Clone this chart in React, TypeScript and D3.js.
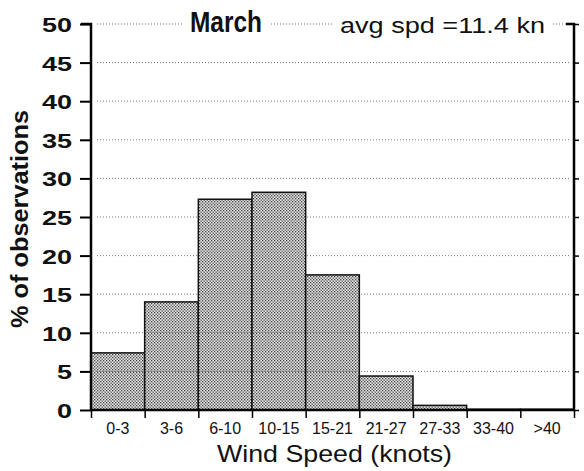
import React, { useEffect, useRef } from 'react';
import * as d3 from 'd3';

const categories = ['0-3', '3-6', '6-10', '10-15', '15-21', '21-27', '27-33', '33-40', '>40'];
const percents = [7.4, 14.0, 27.3, 28.2, 17.5, 4.4, 0.6, 0.1, 0.1];
const yTicks = [0, 5, 10, 15, 20, 25, 30, 35, 40, 45, 50];
const title = 'March';
const subtitle = 'avg spd =11.4 kn';

const App: React.FC = () => {
  const ref = useRef<SVGSVGElement | null>(null);

  useEffect(() => {
    if (!ref.current) return;
    const W = 584, H = 471;
    const margin = { top: 24, left: 91 };
    const width = 574 - margin.left;
    const height = 410 - margin.top;
    const font = "'Liberation Sans', Arial, sans-serif";

    const root = d3.select(ref.current)
      .attr('width', W)
      .attr('height', H)
      .style('position', 'absolute')
      .style('left', 0)
      .style('top', 0);
    root.selectAll('*').remove();

    const defs = root.append('defs');
    const pat = defs.append('pattern')
      .attr('id', 'dots')
      .attr('width', 3)
      .attr('height', 3)
      .attr('patternUnits', 'userSpaceOnUse');
    pat.append('rect').attr('width', 3).attr('height', 3).attr('fill', '#e4e4e4');
    pat.append('rect').attr('x', 0).attr('y', 0).attr('width', 1.3).attr('height', 1.3).attr('fill', '#444');
    pat.append('rect').attr('x', 1.5).attr('y', 1.5).attr('width', 1.3).attr('height', 1.3).attr('fill', '#444');

    const svg = root.append('g').attr('transform', `translate(${margin.left},${margin.top})`);

    const x = d3.scaleBand().domain(categories).range([0, width]).padding(0);
    const y = d3.scaleLinear().domain([0, 50]).range([height, 0]);

    // bars
    svg.append('g')
      .selectAll('rect')
      .data(percents)
      .join('rect')
      .attr('x', (_, i) => x(categories[i]) as number)
      .attr('y', d => y(d))
      .attr('width', x.bandwidth())
      .attr('height', d => height - y(d))
      .attr('fill', 'url(#dots)')
      .attr('stroke', '#111')
      .attr('stroke-width', 1.5);

    // dotted grid lines (drawn over the bars)
    svg.append('g')
      .selectAll('line')
      .data(yTicks.filter(t => t > 0))
      .join('line')
      .attr('x1', 6)
      .attr('x2', width - 4)
      .attr('y1', d => y(d))
      .attr('y2', d => y(d))
      .attr('stroke', '#555')
      .attr('stroke-width', 0.8)
      .attr('stroke-dasharray', '1 2');

    // title boxes
    const tg = svg.append('g');
    tg.append('rect').attr('x', 92).attr('y', -16).attr('width', 86).attr('height', 30).attr('fill', '#fff');
    tg.append('rect').attr('x', 242).attr('y', -16).attr('width', 218).attr('height', 30).attr('fill', '#fff');
    tg.append('text')
      .attr('x', 99)
      .attr('y', 8)
      .attr('font-family', font)
      .attr('font-weight', 'bold')
      .attr('font-size', 29)
      .attr('textLength', 72)
      .attr('lengthAdjust', 'spacingAndGlyphs')
      .attr('fill', '#111')
      .text(title);
    tg.append('text')
      .attr('x', 249)
      .attr('y', 9)
      .attr('font-family', font)
      .attr('font-size', 22)
      .attr('textLength', 205)
      .attr('lengthAdjust', 'spacingAndGlyphs')
      .attr('fill', '#111')
      .text(subtitle);

    // left axis
    const yAxisLeft = d3.axisLeft(y).tickValues(yTicks).tickSize(11).tickPadding(8);
    const gl = svg.append('g').call(yAxisLeft);
    gl.select('.domain').attr('stroke-width', 2.5).attr('d', `M-10,0H0V${height}`);
    gl.selectAll('line').attr('stroke-width', 2);
    gl.selectAll<SVGTextElement, number>('text')
      .attr('font-family', font)
      .attr('font-size', 21)
      .attr('font-weight', 'bold')
      .attr('fill', '#111')
      .attr('dy', '0.36em')
      .attr('textLength', d => String(d).length * 15)
      .attr('lengthAdjust', 'spacingAndGlyphs');

    // right axis
    const yAxisRight = d3.axisRight(y).tickValues(yTicks).tickSize(5).tickFormat(() => '');
    const gr = svg.append('g').attr('transform', `translate(${width},0)`).call(yAxisRight);
    gr.select('.domain').attr('stroke-width', 2.5).attr('d', `M-8,0H0V${height}`);
    gr.selectAll('line').attr('stroke-width', 1.5);

    // bottom axis
    const xAxis = d3.axisBottom(d3.scaleLinear().domain([0, categories.length]).range([0, width]))
      .tickValues(d3.range(categories.length + 1))
      .tickSize(8)
      .tickFormat(() => '');
    const gb = svg.append('g').attr('transform', `translate(0,${height})`).call(xAxis);
    gb.select('.domain').attr('stroke-width', 2.5).attr('d', `M0,0H${width}`);
    gb.selectAll('line').attr('stroke-width', 1.5);

    svg.append('g')
      .selectAll('text')
      .data(categories)
      .join('text')
      .attr('x', d => (x(d) as number) + x.bandwidth() / 2)
      .attr('y', height + 24)
      .attr('text-anchor', 'middle')
      .attr('font-family', font)
      .attr('font-size', 16)
      .attr('fill', '#111')
      .text(d => d);

    // axis labels
    root.append('text')
      .attr('transform', `translate(28,219) rotate(-90)`)
      .attr('x', -109)
      .attr('font-family', font)
      .attr('font-size', 24)
      .attr('font-weight', 'bold')
      .attr('textLength', 218)
      .attr('lengthAdjust', 'spacingAndGlyphs')
      .attr('fill', '#111')
      .text('% of observations');

    root.append('text')
      .attr('x', 217)
      .attr('y', 462)
      .attr('font-family', font)
      .attr('font-size', 24)
      .attr('textLength', 235)
      .attr('lengthAdjust', 'spacingAndGlyphs')
      .attr('fill', '#111')
      .text('Wind Speed (knots)');
  }, []);

  return <svg ref={ref} />;
};

export default App;
